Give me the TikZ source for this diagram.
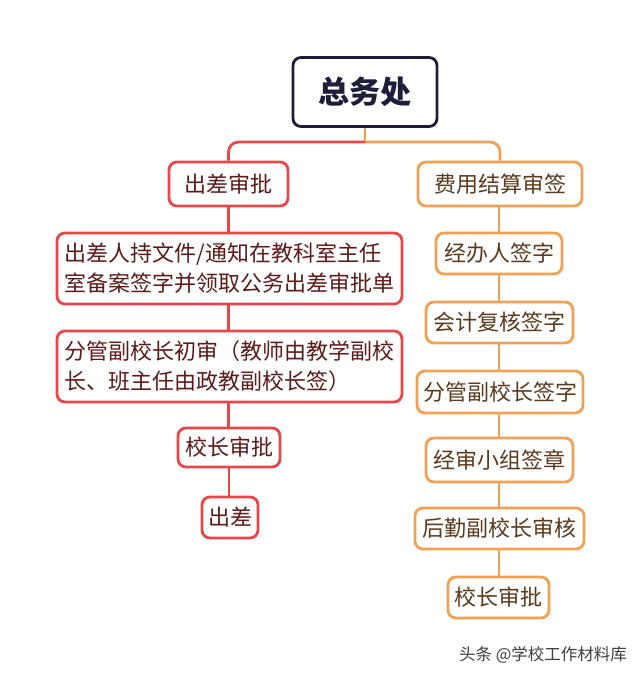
\documentclass[tikz,border=0pt]{standalone}
\usepackage{fontspec}
\setmainfont{Noto Sans CJK SC}
\definecolor{cred}{HTML}{E8474A}
\definecolor{corg}{HTML}{F2A154}
\definecolor{cnavy}{HTML}{1E1E3C}
\definecolor{tred}{HTML}{5C1A1A}
\definecolor{torg}{HTML}{5C3A1C}
\begin{document}
\begin{tikzpicture}[x=1pt,y=-1pt,
  rootbox/.style={draw=cnavy, line width=2.8pt, rounded corners=8pt, fill=white, text=cnavy, font=\fontsize{31}{36}\selectfont\bfseries, inner sep=0pt},
  redbox/.style={draw=cred, line width=2.8pt, rounded corners=8pt, fill=white, text=tred, font=\fontsize{22}{30}\selectfont, inner sep=0pt, align=left},
  orgbox/.style={draw=corg, line width=2.8pt, rounded corners=8pt, fill=white, text=torg, font=\fontsize{22}{30}\selectfont, inner sep=0pt, align=left},
  redline/.style={draw=cred, line width=2.8pt},
  orgline/.style={draw=corg, line width=2.8pt}
]
\useasboundingbox (0,0) rectangle (640,676);
\fill[white] (0,0) rectangle (640,676);

\node[rootbox, minimum width=144pt, minimum height=69pt] (root) at (365,92) {总务处};

\node[redbox, minimum width=119pt, minimum height=44pt] (A0) at (228.5,184) {出差审批};
\node[redbox, minimum width=345pt, minimum height=71pt] (A1) at (229.5,268.5) {出差人持文件/通知在教科室主任\\室备案签字并领取公务出差审批单};
\node[redbox, minimum width=345pt, minimum height=71pt] (A2) at (229.5,366.5) {分管副校长初审（教师由教学副校\\长、班主任由政教副校长签）};
\node[redbox, minimum width=102pt, minimum height=39pt] (A3) at (229,447.5) {校长审批};
\node[redbox, minimum width=56pt, minimum height=41pt] (A4) at (230,517.5) {出差};

\node[orgbox, minimum width=164pt, minimum height=44pt] (B0) at (500,184) {费用结算审签};
\node[orgbox, minimum width=126pt, minimum height=41pt] (B1) at (499,253.5) {经办人签字};
\node[orgbox, minimum width=147pt, minimum height=41pt] (B2) at (499.5,322.5) {会计复核签字};
\node[orgbox, minimum width=166pt, minimum height=42pt] (B3) at (500,392) {分管副校长签字};
\node[orgbox, minimum width=147pt, minimum height=44pt] (B4) at (499.5,460) {经审小组签章};
\node[orgbox, minimum width=169pt, minimum height=41pt] (B5) at (499.5,528.5) {后勤副校长审核};
\node[orgbox, minimum width=101pt, minimum height=41pt] (B6) at (498.5,597.5) {校长审批};

\coordinate (j) at (365,142);
\draw[orgline] (root.south) -- (j);
\draw[redline, rounded corners=10pt] (j) -| (A0.north);
\draw[orgline, rounded corners=10pt] (j) -| (B0.north);

\draw[redline] (A0.south) -- (A0.south |- A1.north);
\draw[redline] (A0.south |- A1.south) -- (A0.south |- A2.north);
\draw[redline] (A0.south |- A2.south) -- (A0.south |- A3.north);
\draw[redline] (A3.south) -- (A3.south |- A4.north);

\draw[orgline] (B1.north |- B0.south) -- (B1.north);
\draw[orgline] (B1.south) -- (B1.south |- B2.north);
\draw[orgline] (B1.south |- B2.south) -- (B1.south |- B3.north);
\draw[orgline] (B1.south |- B3.south) -- (B1.south |- B4.north);
\draw[orgline] (B1.south |- B4.south) -- (B1.south |- B5.north);
\draw[orgline] (B1.south |- B5.south) -- (B1.south |- B6.north);

\node[text=black!75, font=\fontsize{16.5}{20}\selectfont, inner sep=0pt] (wm) at (543,655) {头条 @学校工作材料库};
\end{tikzpicture}
\end{document}
